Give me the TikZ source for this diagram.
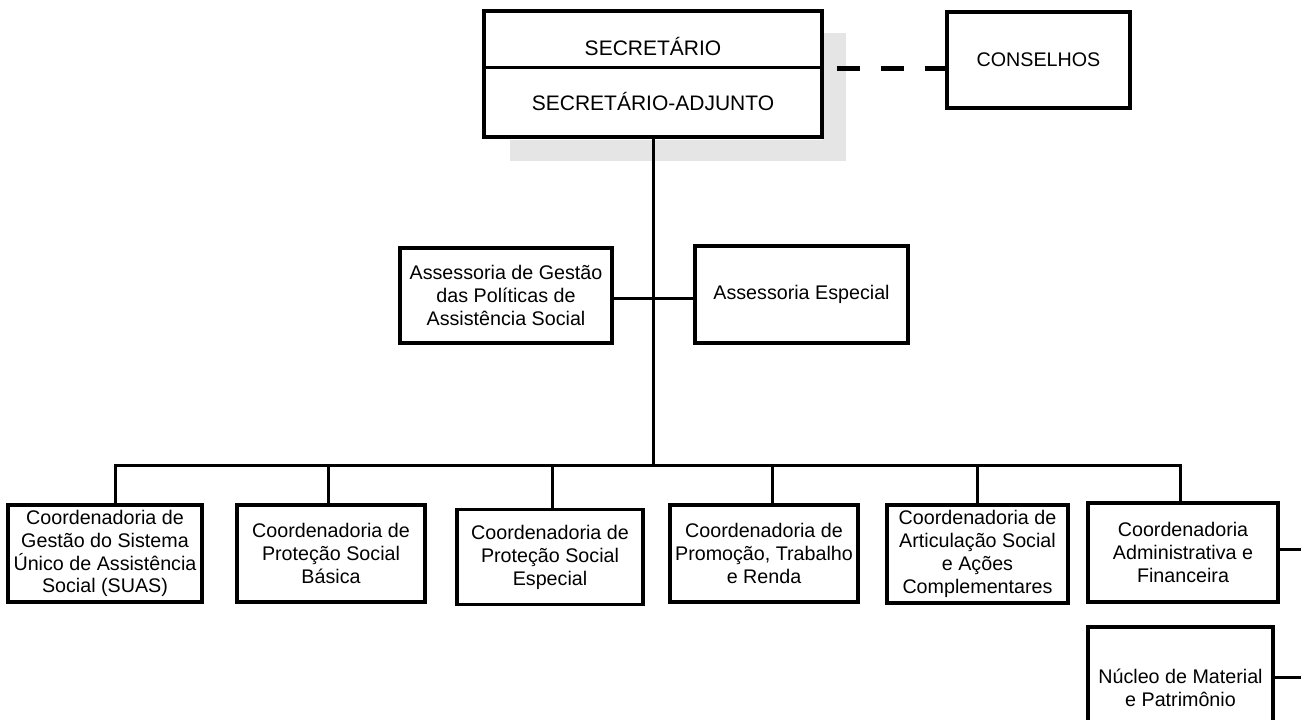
\documentclass[tikz,border=0pt]{standalone}
\usepackage{fontspec}
\setmainfont{Liberation Sans}
\begin{document}
\begin{tikzpicture}[x=1pt,y=-1pt,
  orgbox/.style={draw=black,line width=3.2pt,rectangle,inner sep=0pt,align=center,
    font=\fontsize{19.7}{22.9}\selectfont},
  link/.style={draw=black,line width=3pt},
  toptext/.style={inner sep=0pt,anchor=base,font=\fontsize{21}{24}\selectfont},
  shade/.style={fill=black!10,draw=none}]
\useasboundingbox (0,0) rectangle (1301,720);
\clip (0,0) rectangle (1301,720);

% halftone shadow behind the top box
\fill[shade] (823,33) rectangle (846,161);
\fill[shade] (510,140) rectangle (846,161);

% top level
\node[orgbox,fill=white,minimum width=338pt,minimum height=126pt] (sec) at (653,74) {};
\draw[line width=3pt] (sec.west |- 0,67) -- (sec.east |- 0,67);
\node[toptext] (sectxt) at (653,55) {SECRETÁRIO};
\node[toptext] (adjtxt) at (653,110) {SECRETÁRIO-ADJUNTO};

\node[orgbox,minimum width=183pt,minimum height=96pt] (cons) at (1038.5,60) {CONSELHOS};

% advisory units
\node[orgbox,minimum width=212pt,minimum height=95pt] (agp) at (506,295.5)
  {Assessoria de Gestão\\das Políticas de\\Assistência Social};
\node[orgbox,minimum width=213pt,minimum height=97pt] (aesp) at (801.5,294.5)
  {Assessoria Especial};

% coordinations
\node[orgbox,minimum width=194pt,minimum height=97pt] (c1) at (105,553.5)
  {Coordenadoria de\\Gestão do Sistema\\Único de Assistência\\Social (SUAS)};
\node[orgbox,minimum width=188pt,minimum height=97pt] (c2) at (331,553.5)
  {Coordenadoria de\\Proteção Social\\Básica};
\node[orgbox,minimum width=186pt,minimum height=95pt] (c3) at (550,557)
  {Coordenadoria de\\Proteção Social\\Especial};
\node[orgbox,minimum width=188pt,minimum height=97pt] (c4) at (764,553.5)
  {Coordenadoria de\\Promoção, Trabalho\\e Renda};
\node[orgbox,minimum width=181pt,minimum height=98pt] (c5) at (977.5,554)
  {Coordenadoria de\\Articulação Social\\e Ações\\Complementares};
\node[orgbox,minimum width=190pt,minimum height=99pt] (c6) at (1183,552.5)
  {Coordenadoria\\Administrativa e\\Financeira};
\node[orgbox,minimum width=185pt,minimum height=122pt] (nuc) at (1180.5,688)
  {Núcleo de Material\\e Patrimônio};

% connector points
\coordinate (bus) at (653,465);
\coordinate (mid) at (653,298);
\coordinate (d) at (0,68);
\coordinate (b1) at (115,465);
\coordinate (b2) at (328,465);
\coordinate (b3) at (552,465);
\coordinate (b4) at (772,465);
\coordinate (b5) at (977,465);
\coordinate (b6) at (1180,465);
\coordinate (r1) at (1301,549);
\coordinate (r2) at (1301,677);

% connectors
\draw[line width=5pt,dash pattern=on 23pt off 21pt,dash phase=31pt]
  (sec.east |- d) -- (cons.west |- d);
\draw[link] (sec.south) -- (bus);
\draw[link] (agp.east |- mid) -- (aesp.west |- mid);
\draw[link,line cap=rect] (b1) -- (b6);
\draw[link] (b1) -- (b1 |- c1.north);
\draw[link] (b2) -- (b2 |- c2.north);
\draw[link] (b3) -- (b3 |- c3.north);
\draw[link] (b4) -- (b4 |- c4.north);
\draw[link] (b5) -- (b5 |- c5.north);
\draw[link] (b6) -- (b6 |- c6.north);
\draw[link] (c6.east |- r1) -- (r1);
\draw[link] (nuc.east |- r2) -- (r2);
\end{tikzpicture}
\end{document}
